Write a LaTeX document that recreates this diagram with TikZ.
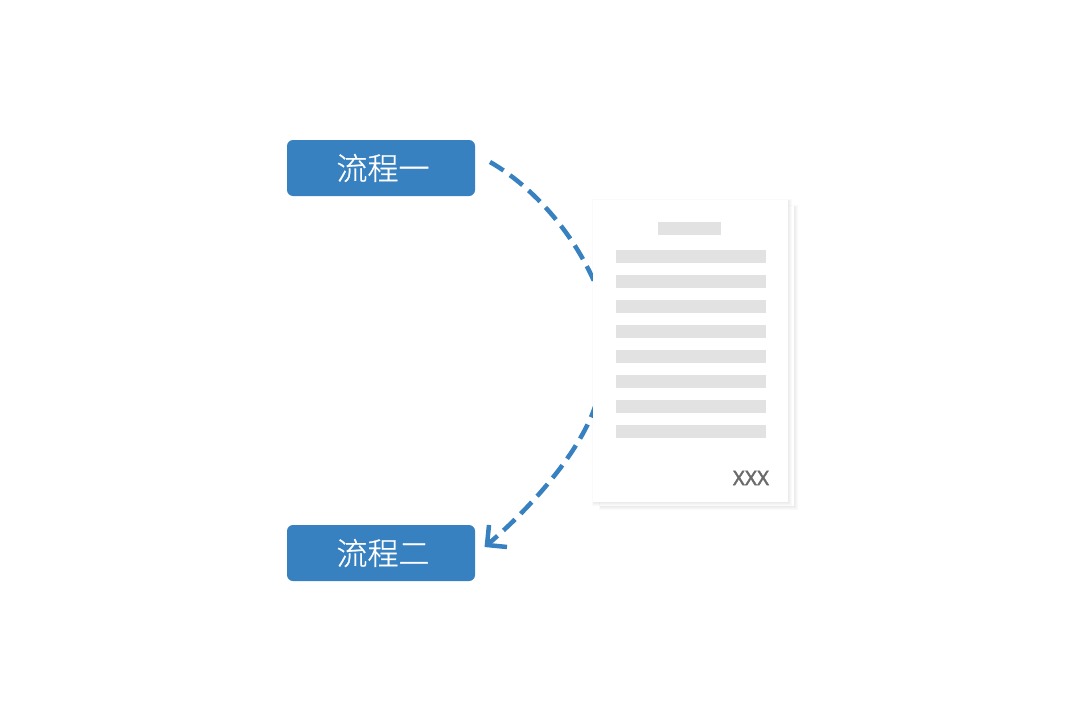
\documentclass[tikz,border=0pt]{standalone}
\usepackage{fontspec}
\newfontfamily\cjk[FakeBold=0.8]{Noto Sans CJK SC Light}
\newfontfamily\lat[FakeBold=2,Kerning=Off,LetterSpace=2]{Noto Sans}
\definecolor{flowblue}{HTML}{3781C1}
\definecolor{bargray}{HTML}{E2E2E2}
\definecolor{labelgray}{HTML}{6A6A6A}
\tikzset{
  flowbox/.style={fill=flowblue,draw=none,rounded corners=6pt,minimum width=188pt,minimum height=56pt,inner sep=0pt,text=white,font=\cjk\fontsize{31}{31}\selectfont},
  flowline/.style={draw=flowblue,line width=4.5pt},
  flowdash/.style={flowline,dash pattern=on 16pt off 8pt},
  bar/.style={fill=bargray,draw=none,minimum height=13pt,inner sep=0pt,anchor=north west},
  sheet/.style={fill=white,draw=none,inner sep=0pt,anchor=north west,minimum width=195pt,minimum height=302pt},
  softshadow/.style={fill=black,draw=none,opacity=0.02}
}
\begin{document}
\begin{tikzpicture}[x=1pt,y=-1pt]
\useasboundingbox (0,0) rectangle (1080,720);
\fill[white] (0,0) rectangle (1080,720);
\node[flowbox] (one) at (381,168) {\hspace{4pt}流程一};
\node[flowbox] (two) at (381,553) {\hspace{4pt}流程二};
\coordinate (start) at (490,162);
\coordinate (upperEnd) at (597,288);
\coordinate (lowerStart) at (597,400);
\coordinate (tip) at (487,545);
\coordinate (headA) at (489,525);
\coordinate (headB) at (507,547);
\draw[flowdash] (start) .. controls (530,185) and (573,230) .. (upperEnd);
\draw[flowdash,dash phase=2pt] (tip) .. controls (540,500) and (586,442) .. (lowerStart);
\draw[flowline,miter limit=10] (headA) -- (tip) -- (headB);
% back sheet with its soft shadow
\foreach \d in {1,2,3,4}{
  \fill[softshadow] (600+1-\d*0.5,207-\d*0.5) rectangle (794+\d,506+\d);
}
\node[sheet,minimum width=194pt,minimum height=300pt] (back) at (600,206) {};
% front sheet with its soft shadow
\foreach \d in {1,2,3,4}{
  \fill[softshadow] (593+1-\d*0.5,201-\d*0.5) rectangle (788+\d,502+\d);
}
\node[sheet] (front) at (593,200) {};
\node[bar,minimum width=63pt] (title) at (658,222) {};
\foreach \i in {0,...,7}{
  \node[bar,minimum width=150pt] (line\i) at (616,250+25*\i) {};
}
\node[text=labelgray,font=\lat\fontsize{20}{20}\selectfont,inner sep=0pt] (xxx) at (751,478) {XXX};
\end{tikzpicture}
\end{document}
